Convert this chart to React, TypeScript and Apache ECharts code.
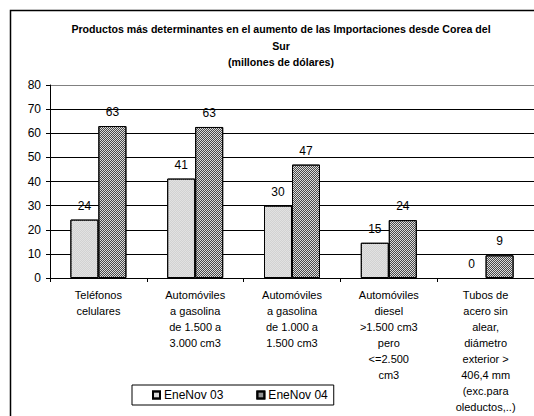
import React, { useEffect, useRef } from "react";
import * as echarts from "echarts";

const categories = [
  "Teléfonos\ncelulares",
  "Automóviles\na gasolina\nde 1.500 a\n3.000 cm3",
  "Automóviles\na gasolina\nde 1.000 a\n1.500 cm3",
  "Automóviles\ndiesel\n>1.500 cm3\npero\n<=2.500\ncm3",
  "Tubos de\nacero sin\nalear,\ndiámetro\nexterior >\n406,4 mm\n(exc.para\noleductos,..)",
];
const seriesNames = ["EneNov 03", "EneNov 04"];
const eneNov03 = [24.2, 41.2, 30, 14.6, 0];
const eneNov04 = [63, 62.6, 47, 24, 9.4];
const titleText =
  "Productos más determinantes en el aumento de las Importaciones desde Corea del\nSur\n(millones de dólares)";

const FONT = "Arial, 'Liberation Sans', sans-serif";

export default function App() {
  const ref = useRef<HTMLDivElement>(null);
  useEffect(() => {
    if (!ref.current) return;
    const chart = echarts.init(ref.current, undefined, { renderer: "svg" });
    const label = {
      show: true,
      position: "top" as const,
      distance: 8,
      color: "#000",
      fontFamily: FONT,
      fontSize: 12,
      formatter: (p: any) => String(Math.round(p.value)),
    };
    const toData = (arr: number[]) =>
      arr.map((v) => (v === 0 ? { value: v, itemStyle: { borderWidth: 0 } } : v));
    chart.setOption({
      animation: false,
      backgroundColor: "#fff",
      textStyle: { fontFamily: FONT },
      graphic: [
        {
          type: "rect",
          shape: { x: 10.5, y: 10.5, width: 600, height: 500 },
          style: { fill: "none", stroke: "#000", lineWidth: 1.5 },
          silent: true,
          z: -10,
        },
        {
          type: "text",
          x: 281,
          y: 21,
          style: {
            text: titleText,
            textAlign: "center",
            font: `bold 10.6px ${FONT}`,
            lineHeight: 16.5,
            fill: "#000",
          },
        },
      ],
      legend: {
        left: 132,
        top: 385,
        orient: "horizontal",
        padding: [4, 6, 4, 20],
        itemGap: 33,
        itemWidth: 7,
        itemHeight: 7,
        borderColor: "#000",
        borderWidth: 1,
        icon: "rect",
        textStyle: { color: "#000", fontFamily: FONT, fontSize: 12, padding: [0, 0, 0, -1] },
        data: seriesNames,
      },
      grid: { left: 50, top: 85, width: 487, height: 193, containLabel: false },
      xAxis: {
        type: "category",
        data: categories,
        axisLine: { lineStyle: { color: "#000", width: 1 } },
        axisTick: { show: true, length: 4, lineStyle: { color: "#000" }, alignWithLabel: false },
        axisLabel: {
          interval: 0,
          color: "#000",
          fontFamily: FONT,
          fontSize: 11,
          lineHeight: 16,
          margin: 9,
        },
      },
      yAxis: {
        type: "value",
        min: 0,
        max: 80,
        interval: 10,
        axisLine: { show: true, lineStyle: { color: "#000" } },
        axisTick: { show: true, length: 4, lineStyle: { color: "#000" } },
        axisLabel: { color: "#000", fontFamily: FONT, fontSize: 12, margin: 9 },
        splitLine: {
          show: true,
          lineStyle: {
            color: ["#000", "#000", "#000", "#000", "#000", "#000", "#000", "#000", "#808080"],
            width: 1,
          },
        },
      },
      series: [
        {
          name: seriesNames[0],
          type: "bar",
          data: toData(eneNov03),
          barWidth: 28,
          barGap: "0%",
          itemStyle: {
            color: "#e2e2e2",
            borderColor: "#000",
            borderWidth: 1,
            decal: {
              symbol: "rect",
              symbolSize: 1,
              dashArrayX: [[1, 1], [0, 1, 1, 0]],
              dashArrayY: [1, 0],
              color: "rgba(200,200,200,0.6)",
            },
          },
          label,
        },
        {
          name: seriesNames[1],
          type: "bar",
          data: toData(eneNov04),
          barWidth: 28,
          barGap: "0%",
          itemStyle: {
            color: "#dcdcdc",
            borderColor: "#000",
            borderWidth: 1,
            decal: {
              symbol: "rect",
              symbolSize: 1,
              dashArrayX: [[1, 1], [0, 1, 1, 0]],
              dashArrayY: [1, 0],
              color: "#4a4a4a",
            },
          },
          label,
        },
      ],
    });
    return () => chart.dispose();
  }, []);
  return (
    <div
      ref={ref}
      style={{ position: "fixed", left: 0, top: 0, width: 534, height: 416 }}
    />
  );
}
